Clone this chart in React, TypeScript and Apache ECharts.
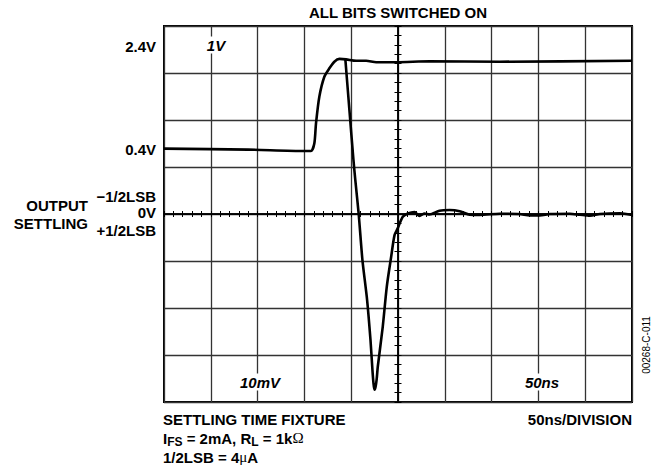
import React, { useEffect, useRef } from "react";
import * as echarts from "echarts";

// time in ns relative to the centre graticule line (50 ns / division)
// amplitude in screen divisions (8 vertical divisions, centre = 0)
const stepTime = [-250, -160, -100, -93, -89.4, -87.6, -84, -78.7, -73.3, -68, -62.6, -55.5, -44.7, -34, -23.3, -2, 33.7, 108.7, 250];
const stepValue = [1.39, 1.37, 1.34, 1.34, 1.5, 1.93, 2.5, 2.92, 3.1, 3.24, 3.3, 3.29, 3.26, 3.26, 3.23, 3.23, 3.25, 3.24, 3.26];

const settleTime = [-56.2, -51.9, -47.6, -45.6, -42, -38, -33, -29.4, -27.3, -26.2, -25.2, -24, -22.8, -21.6, -16.3, -12, -7.3, -3.7, -0.2, 5.1, 10.5, 17.7, 23, 28.4, 33.7, 44.4, 55.1, 65.9, 76.6, 87.3, 108.7, 130, 140.8, 151.5, 162.2, 183.6, 194.3, 205, 215.7, 237.2, 250];
const settleValue = [3.28, 2.21, 1.15, 0.72, 0, -0.98, -1.83, -2.68, -3.32, -3.6, -3.74, -3.68, -3.52, -3.25, -2.4, -1.55, -0.91, -0.45, -0.3, -0.06, 0.01, 0.04, -0.04, 0.01, -0.01, 0.07, 0.085, 0.06, -0.015, -0.02, 0.006, 0, -0.03, -0.03, 0, 0.006, -0.015, -0.036, 0, 0.015, -0.02];

const title = "ALL BITS SWITCHED ON";
const leftLabels = ["2.4V", "0.4V"];
const sideLabels = ["−1/2LSB", "0V", "+1/2LSB"];
const sideTitle = ["OUTPUT", "SETTLING"];
const scaleLabels = ["1V", "10mV", "50ns"];
const footLeft = "SETTLING TIME FIXTURE";
const footRight = "50ns/DIVISION";
const lsbLine = "1/2LSB = 4";
const figId = "00268-C-011";

const FONT = "Liberation Sans";

export default function App() {
  const ref = useRef<HTMLDivElement>(null);
  useEffect(() => {
    document.body.style.margin = "0";
    const chart = echarts.init(ref.current!, undefined, { renderer: "svg" });
    const bold = (text: string, x: number, y: number, align: string, extra: any = {}) => ({
      type: "text",
      x,
      y,
      z: 10,
      style: {
        text,
        fontFamily: FONT,
        fontSize: 15,
        fontWeight: "bold",
        fill: "#000",
        textAlign: align,
        align,
        textVerticalAlign: "middle",
        verticalAlign: "middle",
        ...extra,
      },
    });
    const tokBase = { fontFamily: FONT, fontSize: 15, fontWeight: "bold", color: "#000" };
    const tokSub = { fontFamily: FONT, fontSize: 12, fontWeight: "bold", color: "#000", padding: [8, 0, 0, 0] };
    const tokSym = { fontFamily: "Liberation Serif", fontSize: 15, fontWeight: "normal", color: "#000" };
    const axisCommon = {
      type: "value",
      axisLabel: { show: false },
      axisLine: { show: true, onZero: true, lineStyle: { color: "#000", width: 1.5 } },
      axisTick: { show: true, length: 3, lineStyle: { color: "#000", width: 1 } },
      minorTick: { show: true, splitNumber: 5, length: 3, lineStyle: { color: "#000", width: 1 } },
    };
    const option: any = {
      animation: false,
      backgroundColor: "#fff",
      grid: {
        left: 164,
        top: 26,
        right: 30,
        bottom: 68,
        show: true,
        borderColor: "#000",
        borderWidth: 2,
        backgroundColor: "#fff",
      },
      xAxis: [
        {
          ...axisCommon,
          min: -250,
          max: 250,
          interval: 50,
          position: "bottom",
          splitLine: { show: true, lineStyle: { color: "#333", width: 1.3 } },
        },
        {
          ...axisCommon,
          min: -250,
          max: 250,
          interval: 50,
          position: "top",
          splitLine: { show: false },
        },
      ],
      yAxis: [
        {
          ...axisCommon,
          min: -4,
          max: 4,
          interval: 1,
          position: "left",
          axisTick: { show: true, length: 3.5, lineStyle: { color: "#000", width: 1 } },
          minorTick: { show: true, splitNumber: 5, length: 3.5, lineStyle: { color: "#000", width: 1 } },
          splitLine: { show: true, lineStyle: { color: "#333", width: 1.3 } },
        },
        {
          ...axisCommon,
          min: -4,
          max: 4,
          interval: 1,
          position: "right",
          axisTick: { show: true, length: 3.5, lineStyle: { color: "#000", width: 1 } },
          minorTick: { show: true, splitNumber: 5, length: 3.5, lineStyle: { color: "#000", width: 1 } },
          splitLine: { show: false },
        },
      ],
      series: [
        {
          type: "line",
          data: stepTime.map((t, i) => [t, stepValue[i]]),
          showSymbol: false,
          smooth: 0.25,
          lineStyle: { color: "#000", width: 2.6 },
          z: 5,
        },
        {
          type: "line",
          data: settleTime.map((t, i) => [t, settleValue[i]]),
          showSymbol: false,
          smooth: 0.25,
          lineStyle: { color: "#000", width: 2.6 },
          z: 5,
        },
      ],
      graphic: [
        bold(title, 398, 12, "center"),
        bold(leftLabels[0], 156, 46, "right"),
        bold(leftLabels[1], 156, 149, "right"),
        bold(sideTitle[0], 88, 205, "right"),
        bold(sideTitle[1], 88, 223, "right"),
        bold(sideLabels[0], 156, 196, "right"),
        bold(sideLabels[1], 156, 212.5, "right"),
        bold(sideLabels[2], 156, 230, "right"),
        bold(scaleLabels[0], 216, 45, "center", { fontStyle: "italic", backgroundColor: "#fff", padding: [1, 1] }),
        bold(scaleLabels[1], 260, 382, "center", { fontStyle: "italic", backgroundColor: "#fff", padding: [1, 1] }),
        bold(scaleLabels[2], 542, 382, "center", { fontStyle: "italic", backgroundColor: "#fff", padding: [1, 1] }),
        bold(footLeft, 163, 419, "left"),
        bold(footRight, 632, 419, "right"),
        bold("", 163, 438, "left", {
          text: "{a|I}{s|FS}{a| = 2mA, R}{s|L}{a| = 1k}{g|Ω}",
          rich: { a: tokBase, s: tokSub, g: tokSym },
        }),
        bold("", 163, 457, "left", {
          text: "{a|" + lsbLine + "}{g|μ}{a|A}",
          rich: { a: tokBase, g: tokSym },
        }),
        {
          type: "text",
          x: 646,
          y: 345,
          rotation: Math.PI / 2,
          z: 10,
          style: {
            text: figId,
            fontFamily: FONT,
            fontSize: 10,
            fill: "#000",
            textAlign: "center",
            align: "center",
            textVerticalAlign: "middle",
            verticalAlign: "middle",
          },
        },
      ],
    };
    chart.setOption(option);
    return () => chart.dispose();
  }, []);
  return <div ref={ref} style={{ width: 662, height: 470 }} />;
}
